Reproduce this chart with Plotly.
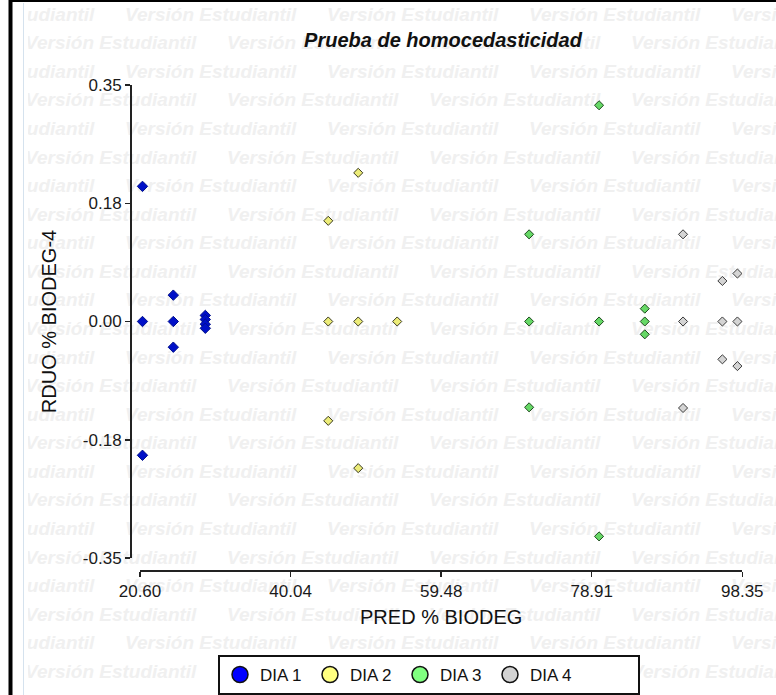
import plotly.graph_objects as go

W, H = 776, 695

# ---------------- data ----------------
dia1_x = [20.92, 20.92, 20.92, 24.90, 24.90, 24.90, 29.03, 29.03, 29.03, 29.03]
dia1_y = [0.200, 0.000, -0.198, 0.039, 0.000, -0.038, 0.009, 0.003, -0.004, -0.010]

dia2_x = [44.90, 48.77, 44.90, 48.77, 53.80, 44.90, 48.77]
dia2_y = [0.149, 0.220, 0.000, 0.000, 0.000, -0.147, -0.217]

dia3_x = [79.86, 70.83, 70.83, 79.86, 85.76, 85.76, 85.76, 70.83, 79.86]
dia3_y = [0.320, 0.129, 0.000, 0.000, 0.019, 0.000, -0.019, -0.127, -0.318]

dia4_x = [90.70, 90.70, 90.70, 95.78, 97.72, 95.78, 97.72, 95.78, 97.72]
dia4_y = [0.129, 0.000, -0.128, 0.060, 0.071, 0.000, 0.000, -0.056, -0.066]

series_names = ["DIA 1", "DIA 2", "DIA 3", "DIA 4"]

x_tickvals = [20.60, 40.04, 59.48, 78.91, 98.35]
x_ticktext = ["20.60", "40.04", "59.48", "78.91", "98.35"]
y_tickvals = [-0.35, -0.175, 0.0, 0.175, 0.35]
y_ticktext = ["-0.35", "-0.18", "0.00", "0.18", "0.35"]

title_text = "Prueba de homocedasticidad"
x_title = "PRED % BIODEG"
y_title = "RDUO % BIODEG-4"
watermark_text = "Versión Estudiantil"

# ---------------- styles ----------------
FONT = "Liberation Sans, Arial, sans-serif"
fills = ["#0010C8", "#ECEC78", "#66D866", "#D4D4D4"]
edges = ["#00108A", "#3A3A20", "#1F4A1F", "#3A3A3A"]
legend_fills = ["#0000FF", "#FFFF80", "#80FF80", "#D3D3D3"]
legend_widths = [45, 45, 45, 103]
sizes = [8, 7, 7, 7]

fig = go.Figure()

# ---------------- watermark (background subplot) ----------------
wm_x, wm_y = [], []
for i in range(24):
    yy = 16 + 28.57 * i
    start = -77 if i % 2 == 0 else 25
    for k in range(5):
        wm_x.append(start + 202 * k)
        wm_y.append(yy)
fig.add_trace(go.Scatter(
    x=wm_x, y=wm_y, mode="text", text=[watermark_text] * len(wm_x),
    textposition="middle right",
    textfont=dict(family=FONT, size=19, color="#F0F0F0", weight="bold", style="italic"),
    hoverinfo="skip", showlegend=False, xaxis="x", yaxis="y"))

# ---------------- data traces ----------------
xs = [dia1_x, dia2_x, dia3_x, dia4_x]
ys = [dia1_y, dia2_y, dia3_y, dia4_y]
for name, xv, yv, f, e, s in zip(series_names, xs, ys, fills, edges, sizes):
    fig.add_trace(go.Scatter(
        x=xv, y=yv, mode="markers", name=name, showlegend=False,
        marker=dict(symbol="diamond", size=s, color=f, line=dict(color=e, width=1)),
        cliponaxis=False, xaxis="x2", yaxis="y2"))

# legend-only entries (circles)
for name, f, lw in zip(series_names, legend_fills, legend_widths):
    fig.add_trace(go.Scatter(
        x=[None], y=[None], mode="markers", name=name, showlegend=True, legendwidth=lw,
        marker=dict(symbol="circle", size=16, color=f, line=dict(color="#111111", width=1.5)),
        xaxis="x2", yaxis="y2"))

axis_common = dict(
    showgrid=False, zeroline=False, showline=True, linecolor="#222222", linewidth=1.5,
    ticks="outside", ticklen=5, tickwidth=1.5, tickcolor="#222222",
    tickfont=dict(family=FONT, size=17, color="#1a1a1a"),
    automargin=False, fixedrange=True,
)

fig.update_layout(
    width=W, height=H,
    margin=dict(l=0, r=0, t=0, b=0),
    paper_bgcolor="white", plot_bgcolor="rgba(0,0,0,0)",
    showlegend=True,
    title=dict(text=title_text, x=443 / W, xanchor="center", y=1 - 40 / H, yanchor="middle",
               xref="paper", yref="paper",
               font=dict(family=FONT, size=20, color="#111111", weight="bold", style="italic")),
    xaxis=dict(domain=[28 / W, 1], range=[28, W], visible=False, fixedrange=True),
    yaxis=dict(domain=[0, 1], range=[H, 0], visible=False, fixedrange=True),
    xaxis2=dict(domain=[140 / W, 742.3 / W], range=[20.60, 98.35], anchor="free",
                position=1 - 570 / H, tickmode="array", tickvals=x_tickvals, ticktext=x_ticktext,
                title=dict(text=x_title, standoff=10, font=dict(family=FONT, size=20, color="#111111")),
                **axis_common),
    yaxis2=dict(domain=[1 - 558 / H, 1 - 85 / H], range=[-0.35, 0.35], anchor="free",
                position=130 / W, tickmode="array", tickvals=y_tickvals, ticktext=y_ticktext,
                title=dict(text=y_title, standoff=19, font=dict(family=FONT, size=20, color="#111111")),
                **axis_common),
    legend=dict(orientation="h", x=218 / W, xanchor="left", y=1 - 655 / H, yanchor="top",
                bgcolor="white", bordercolor="#111111", borderwidth=2,
                font=dict(family=FONT, size=17, color="#111111"),
                entrywidth=45, entrywidthmode="pixels", traceorder="normal"),
    shapes=[
        dict(type="line", xref="paper", yref="paper", x0=10.5 / W, x1=10.5 / W, y0=0, y1=1,
             line=dict(color="black", width=4), layer="above"),
        dict(type="line", xref="paper", yref="paper", x0=10.5 / W, x1=1, y0=1 - 1 / H, y1=1 - 1 / H,
             line=dict(color="black", width=2), layer="above"),
        dict(type="line", xref="paper", yref="paper", x0=23.5 / W, x1=23.5 / W, y0=0, y1=1 - 3 / H,
             line=dict(color="#D5E2EE", width=1), layer="above"),
    ],
)

fig.write_html(
    "out.html",
    config={"displayModeBar": False, "staticPlot": True},
    post_script="document.body.style.margin='0px';document.body.style.overflow='hidden';",
)
